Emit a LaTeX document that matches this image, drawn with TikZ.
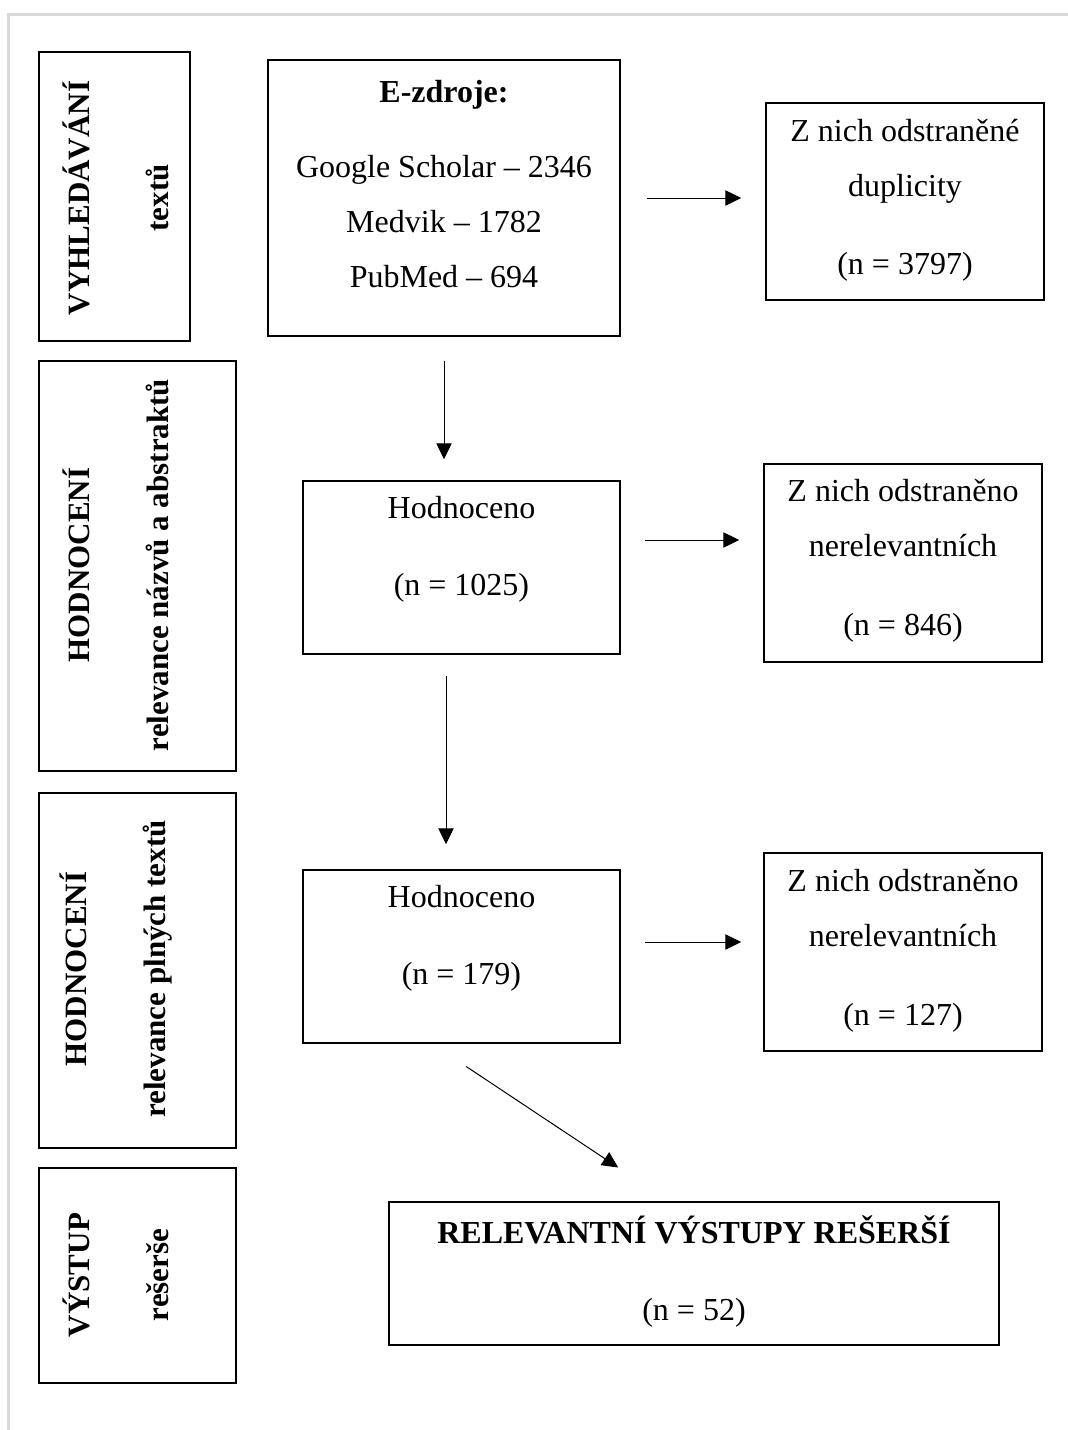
\documentclass[tikz,border=0pt]{standalone}
\usepackage{fontspec}
\setmainfont{Liberation Serif}
\usetikzlibrary{arrows.meta,fit}

\tikzset{
  box/.style={draw, line width=0.75pt, inner sep=0pt},
  fazebox/.style={draw, line width=1pt, inner sep=0pt},
  txt/.style={align=center, font=\fontsize{16}{27.5}\selectfont},
  fazetxt/.style={align=center, rotate=90, font=\fontsize{15.5}{27.5}\selectfont\bfseries},
  arr/.style={-{Triangle[length=8pt,width=7.7pt]}, line width=0.5pt}
}

\begin{document}
\begin{tikzpicture}[x=0.5pt, y=-0.5pt]
    \useasboundingbox (0,0) rectangle (1068,1430);
    \draw[gray!30, line width=1.5pt] (8,1430) -- (8,14) -- (1068,14); %RAMECEK

    % faze vlevo
    \node[fazebox, fit={(39,52) (190,341)}] (F1) {};
    \node[fazebox, fit={(39,361) (236,771)}] (F2) {};
    \node[fazebox, fit={(39,793) (236,1148)}] (F3) {};
    \node[fazebox, fit={(39,1168) (236,1383)}] (F4) {};
    \node[fazetxt] (tF1) at (116,198) {VYHLEDÁVÁNÍ\\[12pt] textů};
    \node[fazetxt] (tF2) at (116,565) {HODNOCENÍ\\[12pt] relevance názvů a abstraktů};
    \node[fazetxt] (tF3) at (116,969) {HODNOCENÍ\\[12pt] relevance plných textů};
    \node[fazetxt] (tF4) at (116,1275) {VÝSTUP\\[12pt] rešerše};

    % boxy
    \node[box, fit={(268,60) (620,336)}] (zdroje) {};
    \node[box, fit={(766,103) (1044,300)}] (dupl) {};
    \node[box, fit={(303,481) (620,654)}] (hodA) {};
    \node[box, fit={(764,464) (1042,662)}] (relA) {};
    \node[box, fit={(303,870) (620,1043)}] (hodB) {};
    \node[box, fit={(764,853) (1042,1051)}] (relB) {};
    \node[box, fit={(389,1202) (999,1345)}] (vystup) {};

    \node[txt] (tzdroje) at (444,184.5) {\textbf{E-zdroje:}\\[10pt] Google Scholar – 2346\\ Medvik – 1782\\ PubMed – 694};
    \node[txt] (tdupl) at (905,200.5) {Z nich odstraněné\\ duplicity\\[11.5pt] (n = 3797)};
    \node[txt] (thodA) at (461.5,549.5) {Hodnoceno\\[11pt] (n = 1025)};
    \node[txt] (trelA) at (903,561) {Z nich odstraněno\\ nerelevantních\\[12pt] (n = 846)};
    \node[txt] (thodB) at (461.5,938.5) {Hodnoceno\\[11pt] (n = 179)};
    \node[txt] (trelB) at (903,950.5) {Z nich odstraněno\\ nerelevantních\\[12pt] (n = 127)};
    \node[txt] (tvystup) at (694,1271.5) {\textbf{RELEVANTNÍ VÝSTUPY REŠERŠÍ}\\[11pt] (n = 52)};

    % sipky
    \draw[arr, shorten <=13pt, shorten >=12pt] (zdroje.east) -- (zdroje.east -| dupl.west);
    \draw[arr, shorten <=12pt, shorten >=10.5pt] (zdroje.south) -- (zdroje.south |- hodA.north);
    \draw[arr, shorten <=12pt, shorten >=12pt] (hodA.east |- 0,540) -- (relA.west |- 0,540);
    \draw[arr, shorten <=10.5pt, shorten >=12.5pt] (hodA.south -| 446,0) -- (hodB.north -| 446,0);
    \draw[arr, shorten <=12pt, shorten >=11pt] (hodB.east |- 0,942) -- (relB.west |- 0,942);
    \draw[arr, shorten <=20.5pt, shorten >=30.5pt] (hodB.south -| 432,0) -- (vystup.north -| 669,0);
\end{tikzpicture}
\end{document}
